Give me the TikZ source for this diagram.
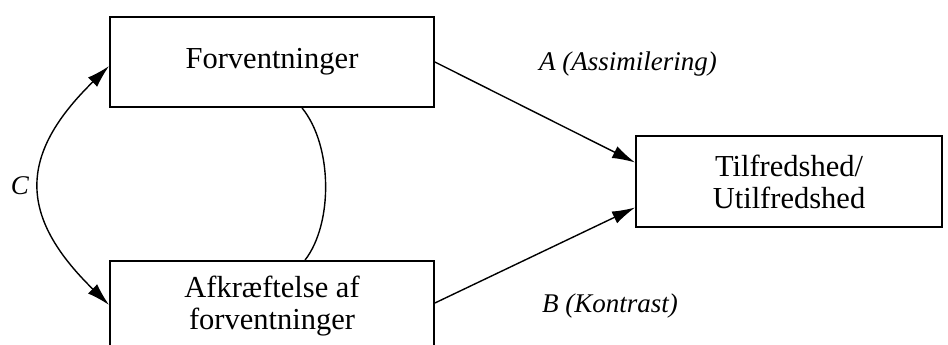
\documentclass[tikz,border=0pt]{standalone}
\usepackage{fontspec}
\setmainfont{Liberation Serif}
\usetikzlibrary{arrows.meta}
\tikzset{
  box/.style={draw, line width=1.8pt, rectangle, inner sep=0pt, align=center,
    font=\fontsize{30.5}{32}\selectfont},
  conn/.style={line width=1.4pt},
  arr/.style={conn, -{Latex[length=23pt,width=13pt]}},
  darr/.style={conn, {Latex[length=23pt,width=13pt]}-{Latex[length=23pt,width=13pt]}},
  lab/.style={font=\fontsize{27}{30}\selectfont\itshape, inner sep=0pt}
}
\begin{document}
\begin{tikzpicture}[x=1pt,y=-1pt]
\clip (0,0) rectangle (948,345);
\fill[white] (0,0) rectangle (948,345);
\node[box, minimum width=324pt, minimum height=90pt] (top) at (272,62) {Forventninger};
\node[box, minimum width=324pt, minimum height=90pt] (bot) at (272,306) {Afkræftelse af\\forventninger};
\node[box, minimum width=306pt, minimum height=91pt] (res) at (789,181.5) {Tilfredshed/\\Utilfredshed};
\draw[arr] (top.east) -- ([yshift=19pt]res.west);
\draw[arr] ([yshift=3pt]bot.east) -- ([yshift=-26pt]res.west);
\draw[darr] ([yshift=-4pt]top.west) .. controls +(-91,89) and +(-91,-89) .. ([yshift=1pt]bot.west);
\draw[conn] ([xshift=30pt]top.south) .. controls +(31,38) and +(28,-36) .. ([xshift=33pt]bot.north);
\node[lab] (la) at (628,64) {A (Assimilering)};
\node[lab] (lb) at (610,306) {B (Kontrast)};
\node[lab] (lc) at (20,186) {C};
\end{tikzpicture}
\end{document}
